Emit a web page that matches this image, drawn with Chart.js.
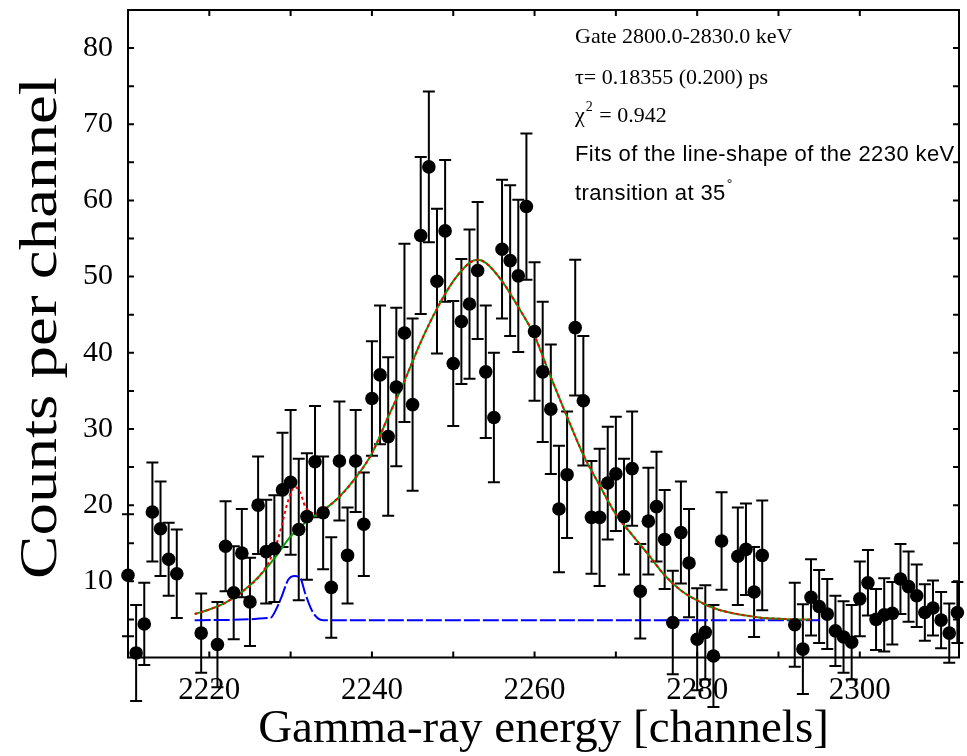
<!DOCTYPE html>
<html><head><meta charset="utf-8">
<script src="https://cdn.jsdelivr.net/npm/chart.js@4.4.1/dist/chart.umd.min.js"></script>
<style>html,body{margin:0;padding:0;background:#fff}</style>
</head><body>
<canvas id="c" width="967" height="756"></canvas>
<script>
// ---- data ----
const channels = [2210,2211,2212,2213,2214,2215,2216,2219,2221,2222,2223,2224,2225,2226,2227,2228,2229,2230,2231,2232,2233,2234,2235,2236,2237,2238,2239,2240,2241,2242,2243,2244,2245,2246,2247,2248,2249,2250,2251,2252,2253,2254,2255,2256,2257,2258,2259,2260,2261,2262,2263,2264,2265,2266,2267,2268,2269,2270,2271,2272,2273,2274,2275,2276,2277,2278,2279,2280,2281,2282,2283,2285,2286,2287,2288,2292,2293,2294,2295,2296,2297,2298,2299,2300,2301,2302,2303,2304,2305,2306,2307,2308,2309,2310,2311,2312];
const counts = [10.8,0.6,4.4,19.1,16.9,12.9,11.0,3.2,1.7,14.6,8.5,13.7,7.3,20.0,13.9,14.3,22.0,23.0,16.8,18.5,25.7,19.0,9.2,25.8,13.4,25.8,17.5,34.0,37.1,29.0,35.5,42.6,33.2,55.4,64.4,49.4,56.0,38.6,44.1,46.4,50.8,37.5,31.5,53.6,52.1,50.1,59.2,42.8,37.5,32.6,19.5,24.0,43.3,33.7,18.4,18.4,22.9,24.1,18.5,24.8,8.7,17.9,19.8,15.5,4.6,16.4,12.4,2.4,3.3,0.2,15.3,13.3,14.2,8.6,13.4,4.3,1.1,7.9,6.7,5.7,3.5,2.7,2.0,7.7,9.8,5.0,5.6,5.8,10.3,9.3,8.1,5.9,6.5,4.9,3.2,5.9];
const errors = [8.0,6.3,5.4,6.5,6.2,4.8,5.8,5.2,5.6,5.9,6.1,5.8,5.8,6.4,6.8,7.0,7.5,9.5,9.3,8.3,7.3,7.4,6.6,7.8,6.3,6.7,6.8,7.5,9.1,10.4,10.4,11.7,11.3,10.3,9.9,9.5,9.3,8.2,8.2,9.8,9.0,8.7,8.5,9.1,9.9,10.0,9.6,9.1,9.2,8.5,8.3,8.3,8.9,8.5,7.4,9.0,7.4,7.5,7.6,7.5,6.2,7.0,7.2,6.5,6.8,6.7,7.1,6.7,6.2,6.7,6.4,6.4,6.0,5.9,7.2,5.5,5.9,5.0,4.8,4.6,4.6,4.7,4.9,4.9,4.3,4.0,4.8,4.1,4.6,4.6,4.1,3.7,3.6,3.7,3.9,4.0];

// total line-shape fit (green) without the contaminant
const fitX = [2218.2,2220,2222,2224,2226,2228,2230,2232,2234,2236,2238,2240,2242,2244,2246,2248,2250,2252,2253,2254,2256,2258,2260,2262,2264,2266,2268,2270,2272,2274,2276,2278,2280,2282,2284,2286,2288,2290,2292,2294];
const fitY = [5.7,6.3,7.2,8.6,10.5,13.0,15.9,17.9,19.3,21.1,23.6,26.8,31.6,36.3,41.4,45.8,49.4,51.8,52.2,51.8,49.4,46.0,42.2,36.8,31.6,26.6,22.6,18.8,16.1,13.5,10.8,8.8,7.5,6.5,5.9,5.5,5.2,5.1,5.0,5.0];
// red fit around the contaminant bump
const bumpX = [2227.5,2228.3,2228.9,2229.7,2230.5,2231.2,2231.8,2232.6,2233.4];
const bumpRedY = [12.9,15.0,17.3,20.6,22.4,21.6,19.8,19.0,18.8];
// blue: background + contaminant peak
const bgX = [2218.2,2227.5,2228.3,2228.9,2229.7,2230.5,2231.2,2231.8,2232.6,2233.4,2234.0,2295.0];
const bgY = [4.9,5.2,6.5,8.0,10.2,10.7,10.4,8.4,6.2,5.1,4.9,4.9];

const xLabelStep = 20, xMinorStep = 10, yLabelStep = 10, yMinorStep = 5;
const annotLines = [
  {t:'Gate 2800.0-2830.0 keV', f:'serif'},
  {t:'τ= 0.18355 (0.200) ps', f:'serif'},
  {t:'χ', sup:'2', rest:' = 0.942', f:'serif'},
  {t:'Fits of the line-shape of the 2230 keV', f:'sans'},
  {t:'transition at 35', sup:'°', rest:'', f:'sans'}
];
const xTitle = 'Gamma-ray energy [channels]';
const yTitle = 'Counts per channel';

const pts = channels.map((c,i)=>({x:c,y:counts[i]}));
const green = fitX.map((v,i)=>({x:v,y:fitY[i]}));
const red = fitX.map((v,i)=>({x:v,y:fitY[i]})).filter(p=>p.x<bumpX[0]||p.x>bumpX[bumpX.length-1])
  .concat(bumpX.map((v,i)=>({x:v,y:bumpRedY[i]}))).sort((a,b)=>a.x-b.x);
const blue = bgX.map((v,i)=>({x:v,y:bgY[i]}));

const SERIF = '"Liberation Serif", "DejaVu Serif", serif';
const SANS = '"Liberation Sans", "DejaVu Sans", sans-serif';

const deco = {
  id:'deco',
  beforeDatasetsDraw(chart){
    const {ctx, scales:{x,y}} = chart;
    ctx.save(); ctx.strokeStyle='#000'; ctx.lineWidth=2;
    channels.forEach((c,i)=>{
      const px = x.getPixelForValue(c);
      const t = y.getPixelForValue(counts[i]+errors[i]);
      const b = y.getPixelForValue(counts[i]-errors[i]);
      ctx.beginPath();
      ctx.moveTo(px,t); ctx.lineTo(px,b);
      ctx.moveTo(px-6,t); ctx.lineTo(px+6,t);
      ctx.moveTo(px-6,b); ctx.lineTo(px+6,b);
      ctx.stroke();
    });
    ctx.restore();
  },
  afterDraw(chart){
    const {ctx, chartArea:a, scales:{x,y}} = chart;
    ctx.save();
    ctx.strokeStyle='#000'; ctx.lineWidth=2;
    ctx.strokeRect(a.left,a.top,a.right-a.left,a.bottom-a.top);
    ctx.beginPath();
    x.ticks.forEach(t=>{
      if (Math.abs(t.value % xMinorStep) > 1e-6) return;
      const px = x.getPixelForValue(t.value);
      if (px<=a.left+1||px>=a.right-1) return;
      ctx.moveTo(px,a.bottom); ctx.lineTo(px,a.bottom-6);
      ctx.moveTo(px,a.top); ctx.lineTo(px,a.top+6);
    });
    y.ticks.forEach(t=>{
      if (Math.abs(t.value % yMinorStep) > 1e-6) return;
      const py = y.getPixelForValue(t.value);
      if (py>=a.bottom-1||py<=a.top+1) return;
      ctx.moveTo(a.left,py); ctx.lineTo(a.left+6,py);
      ctx.moveTo(a.right,py); ctx.lineTo(a.right-6,py);
    });
    ctx.stroke();
    // axis titles
    ctx.fillStyle='#000';
    ctx.font = '47px '+SERIF;
    ctx.textAlign='center'; ctx.textBaseline='middle';
    ctx.fillText(xTitle, (a.left+a.right)/2, 730);
    ctx.save();
    ctx.font = '52px '+SERIF;
    ctx.translate(42, 328); ctx.rotate(-Math.PI/2); ctx.scale(1.25,1);
    ctx.fillText(yTitle, 0, 0);
    ctx.restore();
    // annotation
    const ys = [37,78,116,155,194];
    ctx.textAlign='left';
    annotLines.forEach((l,i)=>{
      const fam = l.f==='serif'?SERIF:SANS;
      const size = 22;
      ctx.letterSpacing = l.f==='serif' ? '0px' : '0.4px';
      ctx.font = size+'px '+fam;
      let xx = 575;
      ctx.fillText(l.t, xx, ys[i]);
      if (l.sup){
        xx += ctx.measureText(l.t).width+1;
        ctx.font = Math.round(size*0.65)+'px '+fam;
        ctx.fillText(l.sup, xx, ys[i]-9);
        xx += ctx.measureText(l.sup).width+1;
        ctx.font = size+'px '+fam;
        ctx.fillText(l.rest, xx, ys[i]);
      }
    });
    ctx.restore();
  }
};

new Chart(document.getElementById('c'), {
  type:'scatter',
  data:{datasets:[
    {data:pts, showLine:false, pointRadius:6.8, pointHoverRadius:6.8, backgroundColor:'#000', borderWidth:0, clip:false, order:0},
    {data:red, showLine:true, pointRadius:0, borderColor:'#ff0000', borderWidth:2, borderDash:[3,3], cubicInterpolationMode:'monotone', order:1},
    {data:green, showLine:true, pointRadius:0, borderColor:'#00a000', borderWidth:2, cubicInterpolationMode:'monotone', order:2},
    {data:blue, showLine:true, pointRadius:0, borderColor:'#0000ff', borderWidth:2, borderDash:[16,3], cubicInterpolationMode:'monotone', order:3}
  ]},
  options:{
    responsive:false, animation:false, devicePixelRatio:1,
    layout:{padding:{top:10,right:8,left:0,bottom:0}},
    plugins:{legend:{display:false}, tooltip:{enabled:false}},
    scales:{
      x:{type:'linear', min:2210, max:2312.2,
        afterFit(s){ s.height = 98.5; s.paddingLeft = 0; s.paddingRight = 0; },
        grid:{display:false, drawTicks:false}, border:{display:false},
        ticks:{stepSize:xMinorStep, autoSkip:false, maxRotation:0, padding:15, color:'#000',
          font:{family:SERIF, size:31},
          callback:v=> (Math.abs(v % xLabelStep)<1e-6) ? String(v) : ''}},
      y:{type:'linear', min:0, max:85,
        afterFit(s){ s.width = 128; s.paddingTop = 0; s.paddingBottom = 0; },
        grid:{display:false, drawTicks:false}, border:{display:false},
        ticks:{stepSize:yMinorStep, autoSkip:false, padding:15, color:'#000',
          font:{family:SERIF, size:30},
          callback:v=> (v>0 && Math.abs(v % yLabelStep)<1e-6) ? String(v) : ''}}
    }
  },
  plugins:[deco]
});
</script>
</body></html>
